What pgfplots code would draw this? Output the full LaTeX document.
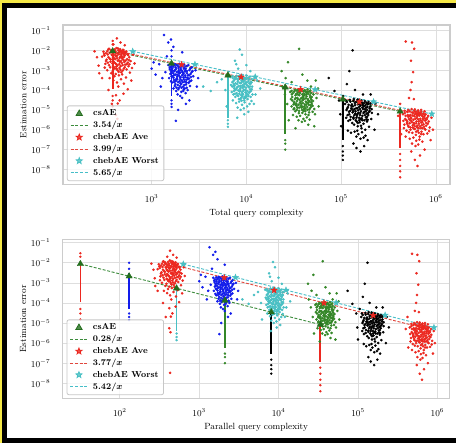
\documentclass[border=0pt]{standalone}
\usepackage{amsmath}
\usepackage{pgfplots}
\pgfplotsset{compat=1.18}
\usepackage{pgfplotstable}
\definecolor{cR}{RGB}{236,40,32}
\definecolor{cB}{RGB}{18,28,235}
\definecolor{cC}{RGB}{72,192,196}
\definecolor{cG}{RGB}{52,135,40}
\definecolor{cTri}{RGB}{36,110,30}
\definecolor{dG}{RGB}{60,140,60}
\definecolor{dR}{RGB}{225,70,60}
\definecolor{dC}{RGB}{70,190,200}
\definecolor{bgY}{RGB}{245,232,70}
\pgfdeclareplotmark{fstar}{%
 \pgfpathmoveto{\pgfqpointpolar{90}{\pgfplotmarksize}}%
 \pgfpathlineto{\pgfqpointpolar{126}{0.42\pgfplotmarksize}}%
 \pgfpathlineto{\pgfqpointpolar{162}{\pgfplotmarksize}}%
 \pgfpathlineto{\pgfqpointpolar{198}{0.42\pgfplotmarksize}}%
 \pgfpathlineto{\pgfqpointpolar{234}{\pgfplotmarksize}}%
 \pgfpathlineto{\pgfqpointpolar{270}{0.42\pgfplotmarksize}}%
 \pgfpathlineto{\pgfqpointpolar{306}{\pgfplotmarksize}}%
 \pgfpathlineto{\pgfqpointpolar{342}{0.42\pgfplotmarksize}}%
 \pgfpathlineto{\pgfqpointpolar{18}{\pgfplotmarksize}}%
 \pgfpathlineto{\pgfqpointpolar{54}{0.42\pgfplotmarksize}}%
 \pgfpathclose\pgfusepathqfillstroke}

% chebAE clouds (shared by both panels)
\pgfplotstableread{
x y
310 8.5e-3
345 6.2e-3
372 1.05e-2
398 4.1e-3
420 7.3e-3
455 9.6e-3
480 5.2e-3
505 3.3e-3
530 8.0e-3
560 2.4e-3
330 2.9e-3
355 1.8e-3
385 2.2e-3
410 1.2e-3
440 3.0e-3
470 1.6e-3
495 9.5e-4
520 1.4e-3
580 4.5e-3
300 4.8e-3
362 3.8e-3
392 6.8e-3
432 5.5e-3
462 2.6e-3
515 6.0e-3
545 1.1e-3
590 7.6e-4
340 1.0e-3
375 7.0e-4
405 5.0e-4
448 8.2e-4
488 6.1e-4
535 4.3e-4
320 1.35e-3
425 2.0e-3
460 4.2e-3
500 7.0e-3
550 3.6e-3
380 8.8e-3
350 1.12e-2
415 9.0e-3
470 1.0e-2
440 1.25e-2
395 3.1e-4
430 2.4e-4
475 3.5e-4
360 4.0e-4
510 2.1e-4
445 1.5e-4
390 1.6e-3
485 2.3e-3
525 1.9e-3
565 5.7e-3
600 2.9e-3
315 6.6e-3
335 3.4e-3
412 3.6e-3
452 6.4e-3
492 4.4e-3
540 8.8e-3
368 2.7e-3
402 2.5e-3
422 1.5e-3
437 1.0e-3
458 1.3e-3
478 7.9e-4
508 1.2e-3
570 1.6e-3
325 2.1e-3
385 5.6e-3
250 9.0e-3
265 4.5e-3
275 1.7e-3
640 6.0e-3
660 2.2e-3
620 1.3e-3
430 4.0e-2
470 2.5e-2
395 2.0e-2
520 1.8e-2
300 4.0e-4
610 3.0e-4
350 1.0e-4
420 5.5e-5
460 3.0e-5
505 6.5e-5
380 2.0e-5
440 2.1e-5
560 1.1e-4
280 7.0e-4
420 5.5e-6
435 3.5e-6
430 3.3e-8
340 9e-3
360 7.5e-3
380 6e-3
400 8e-3
420 5e-3
440 7e-3
460 8.5e-3
480 6.5e-3
500 9e-3
520 5.5e-3
350 4.5e-3
370 3.5e-3
390 4.5e-3
410 5.8e-3
430 4e-3
450 3.2e-3
470 4.8e-3
490 3.8e-3
510 4.6e-3
530 3e-3
345 2.4e-3
365 1.4e-3
395 2.8e-3
415 2.2e-3
435 1.7e-3
455 2e-3
475 2.9e-3
495 1.8e-3
515 2.6e-3
545 2e-3
355 1.2e-2
375 9.5e-3
405 1.1e-2
425 1.3e-2
445 1e-2
465 1.15e-2
485 8e-3
505 1.05e-2
525 7e-3
555 6.5e-3
330 7.2e-3
318 5.5e-3
575 3.2e-3
585 2e-3
400 1.4e-3
428 1.2e-3
468 1.05e-3
388 9e-4
418 6.5e-4
452 5.5e-4
}\cloudRa
\pgfplotstableread{
x y
1500 1.8e-3
1560 1.1e-3
1620 7.5e-4
1680 1.5e-3
1740 9.0e-4
1800 1.9e-3
1860 6.0e-4
1920 1.3e-3
1990 4.5e-4
2050 1.7e-3
2120 8.0e-4
2190 1.2e-3
2260 5.5e-4
2340 1.6e-3
2420 3.5e-4
2500 1.0e-3
2580 6.5e-4
2660 1.4e-3
1530 4.0e-4
1600 2.8e-4
1650 5.0e-4
1720 3.2e-4
1780 2.0e-4
1840 3.8e-4
1900 2.5e-4
1960 7.0e-4
2020 2.2e-4
2080 3.0e-4
2150 1.5e-4
2230 2.7e-4
2300 1.9e-4
2380 4.2e-4
2460 2.3e-4
2540 1.6e-4
2620 3.0e-4
1700 1.2e-4
1820 9.0e-5
1940 1.3e-4
2060 8.0e-5
2180 1.1e-4
2280 7.0e-5
2400 1.0e-4
1880 6.0e-5
2000 5.0e-5
2100 4.0e-5
1760 2.0e-3
1960 2.1e-3
2200 1.9e-3
2440 1.8e-3
1640 1.9e-3
2700 9.0e-4
2750 5.0e-4
1550 1.3e-3
1670 9.5e-4
1810 1.15e-3
1930 8.5e-4
2030 1.05e-3
2140 6.0e-4
2250 8.5e-4
2360 7.0e-4
2480 5.5e-4
2600 4.5e-4
1580 6.5e-4
1720 5.5e-4
1860 4.8e-4
2010 3.6e-4
2170 4.3e-4
2320 3.3e-4
2520 2.7e-4
1790 2.8e-4
1000 1.2e-3
1100 6.0e-4
1200 2.0e-3
1300 4.0e-4
1250 1.5e-4
1400 8.0e-4
1050 2.5e-3
2900 1.0e-3
3100 4.0e-4
3000 1.5e-4
1350 6.0e-2
1600 3.5e-2
1500 2.5e-2
1700 1.5e-2
2100 8.0e-3
1450 5.0e-3
2300 2.0e-5
1900 1.0e-5
2500 3.0e-5
1800 2.8e-6
1580 1.5e-3
1650 1.2e-3
1720 1.7e-3
1790 1.4e-3
1870 1.7e-3
1950 1.5e-3
2030 1.3e-3
2110 1.6e-3
2200 1.4e-3
2290 1.2e-3
1600 9e-4
1690 7e-4
1770 1.05e-3
1850 8e-4
1930 1e-3
2010 7.5e-4
2090 9.5e-4
2170 7e-4
2260 1e-3
2350 9e-4
1620 5e-4
1700 4.2e-4
1780 6e-4
1860 3.5e-4
1940 5.5e-4
2020 4.5e-4
2100 5.5e-4
2180 3.5e-4
2270 4.5e-4
2420 5.5e-4
1640 2.4e-4
1730 2.5e-4
1810 3.2e-4
1890 1.8e-4
1970 2.8e-4
2050 2e-4
2130 2.5e-4
2210 1.8e-4
2330 2.4e-4
2480 3.8e-4
1750 1.6e-4
1830 1.3e-4
1910 1.1e-4
1990 1.6e-4
2070 1.3e-4
2160 9e-5
2240 1.2e-4
2350 1.3e-4
2560 1.2e-3
2640 8e-4
}\cloudBb
\pgfplotstableread{
x y
6800 4.5e-4
7100 2.5e-4
7400 1.5e-4
7700 3.8e-4
8000 2.0e-4
8300 4.8e-4
8600 1.2e-4
8900 3.0e-4
9300 9.0e-5
9700 4.0e-4
10100 1.8e-4
10500 2.8e-4
10900 1.1e-4
11400 3.6e-4
7000 8.0e-5
7300 6.0e-5
7600 1.0e-4
7900 7.0e-5
8200 5.0e-5
8500 8.5e-5
8800 4.0e-5
9100 6.5e-5
9500 3.0e-5
9900 5.5e-5
10300 3.5e-5
10700 7.5e-5
11100 4.5e-5
11600 6.0e-5
7200 3.0e-5
7800 2.2e-5
8400 2.6e-5
9000 1.8e-5
9600 2.4e-5
10200 1.5e-5
10800 2.0e-5
8100 1.3e-5
8700 1.0e-5
9400 1.2e-5
7500 3.3e-4
8150 3.2e-4
8750 2.2e-4
9250 4.5e-4
9850 2.4e-4
10400 4.2e-4
11000 2.0e-4
11500 1.5e-4
6900 1.8e-4
7450 1.2e-4
8050 1.4e-4
8650 1.6e-4
9150 1.3e-4
9800 1.0e-4
10600 1.4e-4
11200 9.0e-5
7150 5.0e-4
7900 5.2e-4
8550 5.5e-4
9200 5.0e-4
10000 5.3e-4
10800 4.6e-4
7650 4.5e-5
8350 3.5e-5
9050 4.8e-5
9750 4.0e-5
10500 5.0e-5
11300 2.8e-5
8900 2.9e-5
7350 2.0e-4
9450 2.0e-4
10050 7.0e-5
3500 1.5e-4
4200 9.0e-5
4900 2.5e-4
5500 3.5e-4
6000 1.0e-4
13000 3.0e-4
14000 1.2e-4
12500 6.0e-5
8500 1.1e-2
9000 6.0e-3
7600 3.0e-3
10000 1.8e-3
8200 1.2e-3
11000 9.0e-4
9500 6.0e-6
8000 4.0e-6
10500 8.0e-6
12000 2.0e-5
6200 1.5e-5
7800 2.0e-3
7200 4e-4
7600 4.2e-4
8000 3.6e-4
8400 4e-4
8800 3.8e-4
9200 3.5e-4
9600 3.2e-4
10000 3.8e-4
10600 3.4e-4
11200 2.6e-4
7300 2.8e-4
7700 2.2e-4
8100 2.6e-4
8500 2.3e-4
8900 2.5e-4
9300 2.7e-4
9700 2.1e-4
10100 2.4e-4
10700 2.2e-4
11300 2.4e-4
7100 1.5e-4
7500 1.7e-4
7900 1.3e-4
8300 1.6e-4
8700 1.4e-4
9100 1.7e-4
9500 1.5e-4
9900 1.3e-4
10400 1.6e-4
10900 1.5e-4
7400 9e-5
7800 1.1e-4
8200 9.5e-5
8600 1e-4
9000 8e-5
9400 1.05e-4
9800 7.5e-5
10200 9e-5
10800 8e-5
11400 1.1e-4
7600 6.5e-5
8000 5.5e-5
8400 6.5e-5
8800 5.5e-5
9200 6e-5
9600 4.5e-5
10000 4.5e-5
10400 6e-5
8600 3.5e-5
9400 3.8e-5
}\cloudCc
\pgfplotstableread{
x y
29000 8.0e-5
30500 4.5e-5
32000 2.5e-5
33500 6.5e-5
35000 3.5e-5
36500 9.0e-5
38000 2.0e-5
39500 5.0e-5
41000 1.5e-5
43000 7.5e-5
45000 3.0e-5
47000 5.5e-5
49000 2.0e-5
51000 6.0e-5
30000 1.5e-5
31500 1.1e-5
33000 1.8e-5
34500 1.3e-5
36000 9.0e-6
37500 1.6e-5
39000 7.0e-6
40500 1.2e-5
42000 6.0e-6
44000 1.0e-5
46000 7.5e-6
48000 1.4e-5
50000 8.0e-6
52000 1.1e-5
31000 5.5e-6
34000 4.5e-6
37000 5.0e-6
40000 3.5e-6
43500 4.2e-6
46500 3.2e-6
35500 3.0e-6
38500 2.5e-6
41500 2.8e-6
32500 1.0e-4
35200 1.05e-4
38200 1.1e-4
41200 1.0e-4
44200 1.1e-4
47200 9.5e-5
29500 3.5e-5
31800 2.2e-5
34200 2.8e-5
36800 2.3e-5
39200 3.0e-5
42500 2.6e-5
45500 1.8e-5
48500 3.3e-5
30200 6.0e-5
33200 4.0e-5
36200 5.5e-5
39800 4.2e-5
43200 4.8e-5
47800 4.0e-5
50500 2.8e-5
32800 8.5e-6
35800 6.8e-6
38800 1.0e-5
41800 8.5e-6
45200 5.5e-6
37800 3.8e-5
40800 6.5e-5
34800 7.5e-5
44800 2.2e-5
42800 1.8e-5
33800 1.6e-5
46800 1.2e-5
36000 1.2e-2
27500 2.5e-3
23500 9.0e-4
26000 4.0e-4
24000 1.5e-4
25500 6.0e-5
27000 2.0e-5
54000 3.0e-4
57000 1.2e-4
55000 4.0e-5
58000 1.5e-5
52000 1.5e-6
33000 1.2e-6
45000 1.8e-6
39000 6.0e-4
44000 3.0e-4
30000 2.5e-4
48000 1.5e-4
28000 3.0e-6
53000 6.0e-6
30000 9e-5
32000 8.5e-5
34000 9.5e-5
36000 8e-5
38000 9e-5
40000 8.5e-5
42000 9e-5
44000 8e-5
46000 8.5e-5
48000 7e-5
31000 7e-5
33000 5.5e-5
35000 6e-5
37000 7e-5
39000 6e-5
41000 5.5e-5
43000 6e-5
45000 6.5e-5
47000 4.5e-5
49000 4.5e-5
30500 3e-5
32500 3.5e-5
34500 4e-5
36500 3.2e-5
38500 4e-5
40500 3.5e-5
42500 3.8e-5
44500 3.5e-5
46500 2.8e-5
48500 2.4e-5
31500 1.9e-5
33500 2.1e-5
35500 1.8e-5
37500 2.6e-5
39500 2.2e-5
41500 1.9e-5
43500 2.3e-5
45500 2.5e-5
47500 1.7e-5
50000 1.6e-5
32000 1.2e-5
34000 1e-5
36000 1.3e-5
38000 1.3e-5
40000 9e-6
42000 1.2e-5
44000 1.4e-5
46000 1.05e-5
39000 1.45e-5
41000 1.1e-5
}\cloudGd
\pgfplotstableread{
x y
110000 2.0e-5
116000 1.2e-5
122000 6.0e-6
128000 1.6e-5
134000 9.0e-6
140000 2.2e-5
147000 5.0e-6
154000 1.4e-5
161000 3.5e-6
168000 1.9e-5
176000 8.0e-6
184000 1.3e-5
193000 5.5e-6
203000 1.5e-5
113000 4.0e-6
119000 2.8e-6
125000 3.2e-6
131000 2.2e-6
137000 1.8e-6
143000 3.0e-6
150000 1.5e-6
157000 2.4e-6
164000 1.2e-6
172000 2.0e-6
180000 1.0e-6
188000 2.6e-6
197000 1.4e-6
208000 3.5e-6
118000 9.0e-7
127000 7.0e-7
139000 8.0e-7
152000 6.0e-7
166000 7.5e-7
181000 5.0e-7
145000 4.5e-7
160000 3.5e-7
173000 4.0e-7
112000 3.0e-5
124000 3.2e-5
136000 3.5e-5
149000 3.3e-5
163000 3.0e-5
178000 2.8e-5
195000 2.5e-5
114000 1.0e-5
121000 8.0e-6
130000 1.1e-5
141000 6.5e-6
151000 9.5e-6
159000 7.0e-6
170000 1.1e-5
186000 6.5e-6
200000 9.0e-6
211000 7.0e-6
117000 5.5e-6
126000 4.5e-6
135000 4.2e-6
146000 2.6e-6
155000 4.0e-6
167000 3.0e-6
183000 4.2e-6
191000 3.2e-6
133000 1.5e-5
144000 1.2e-5
158000 2.0e-5
174000 1.5e-5
190000 1.9e-5
148000 9.0e-7
162000 1.6e-6
205000 6.0e-5
132000 1.0e-2
122000 9.0e-4
74000 4.0e-4
85000 9.0e-5
95000 3.0e-5
98000 6.0e-6
100000 1.5e-6
230000 2.0e-5
245000 6.0e-6
225000 1.0e-6
160000 8.0e-8
145000 1.2e-7
175000 1.5e-7
135000 2.0e-7
190000 3.0e-7
115000 2.0e-4
140000 1.0e-4
170000 6.0e-5
105000 5.0e-5
115000 2.5e-5
125000 2.6e-5
135000 2.8e-5
145000 2.6e-5
155000 2.7e-5
165000 2.4e-5
175000 2.2e-5
185000 2.3e-5
195000 2e-5
205000 2.1e-5
120000 1.8e-5
130000 1.9e-5
140000 1.7e-5
150000 1.9e-5
160000 1.6e-5
170000 1.7e-5
180000 1.7e-5
190000 1.4e-5
200000 1.2e-5
210000 1.1e-5
118000 1.4e-5
128000 1.2e-5
138000 1.1e-5
148000 1.2e-5
158000 1.1e-5
168000 1.3e-5
178000 1.1e-5
188000 1e-5
198000 8e-6
125000 9e-6
132000 7.5e-6
142000 8.5e-6
152000 7e-6
162000 8.5e-6
172000 7e-6
182000 8.5e-6
192000 7e-6
138000 5.5e-6
148000 6e-6
158000 5.5e-6
168000 5e-6
178000 5.5e-6
188000 4.5e-6
135000 3.6e-6
145000 4e-6
155000 3e-6
165000 3.8e-6
175000 3e-6
185000 3.3e-6
150000 2.2e-6
}\cloudKe
\pgfplotstableread{
x y
450000 6.0e-6
475000 3.5e-6
500000 2.0e-6
525000 5.0e-6
550000 2.8e-6
575000 7.0e-6
600000 1.5e-6
630000 4.0e-6
660000 1.2e-6
690000 6.5e-6
720000 2.4e-6
755000 4.5e-6
790000 1.6e-6
830000 5.0e-6
460000 1.2e-6
490000 9.0e-7
515000 1.4e-6
540000 1.0e-6
565000 7.0e-7
590000 1.1e-6
615000 5.5e-7
645000 9.0e-7
675000 4.5e-7
705000 8.0e-7
740000 6.0e-7
775000 1.0e-6
810000 6.5e-7
850000 8.5e-7
480000 4.5e-7
530000 3.5e-7
580000 4.0e-7
620000 2.8e-7
670000 3.2e-7
720000 2.5e-7
560000 2.0e-7
610000 1.5e-7
650000 1.8e-7
470000 9.0e-6
510000 1.0e-5
555000 1.1e-5
600000 1.05e-5
650000 9.5e-6
700000 1.0e-5
760000 8.5e-6
455000 2.8e-6
495000 2.2e-6
535000 3.0e-6
585000 2.2e-6
625000 2.6e-6
665000 2.0e-6
710000 1.7e-6
770000 2.9e-6
820000 2.0e-6
860000 1.3e-6
505000 5.5e-6
545000 4.2e-6
595000 4.8e-6
640000 6.0e-6
685000 3.6e-6
730000 3.8e-6
800000 3.3e-6
465000 1.8e-6
520000 7.5e-7
570000 1.3e-6
635000 1.3e-6
695000 1.2e-6
750000 1.4e-6
605000 8.0e-6
715000 5.5e-6
660000 7.0e-7
480000 2.8e-2
560000 2.5e-2
590000 1.2e-2
545000 3.0e-3
575000 8.0e-4
555000 2.5e-4
540000 1.0e-4
520000 4.0e-5
420000 2.0e-5
400000 5.0e-6
430000 6.0e-7
900000 4.0e-6
930000 1.0e-6
880000 3.0e-7
600000 3.0e-8
640000 1.5e-8
680000 5.0e-8
550000 8.0e-8
760000 1.0e-7
585000 3.5e-5
470000 7e-6
500000 8e-6
530000 8.5e-6
560000 7.5e-6
590000 9e-6
620000 8e-6
660000 7.5e-6
700000 8e-6
740000 6.5e-6
780000 6e-6
480000 5e-6
510000 4.5e-6
540000 5.5e-6
570000 5.2e-6
600000 6e-6
640000 5e-6
680000 5.5e-6
720000 4.8e-6
760000 5.5e-6
810000 4e-6
490000 3e-6
520000 3.5e-6
550000 3.8e-6
580000 3.2e-6
610000 3.6e-6
650000 3.3e-6
690000 3e-6
730000 3.2e-6
770000 3.6e-6
840000 2.6e-6
500000 2.5e-6
530000 2.1e-6
560000 2.4e-6
590000 1.9e-6
620000 2.1e-6
660000 2.6e-6
700000 2.3e-6
740000 1.9e-6
790000 2.2e-6
640000 1.6e-6
510000 1.6e-6
540000 1.3e-6
570000 1.7e-6
600000 1.1e-6
630000 1.4e-6
680000 1.5e-6
720000 1.2e-6
760000 1.1e-6
620000 8e-7
700000 6e-7
}\cloudRf

\begin{document}
\begin{tikzpicture}
\useasboundingbox (0,0) rectangle (456pt,443pt);
\fill[bgY] (0,0) rectangle (456pt,443pt);
\fill[black] (2pt,0) rectangle (456pt,440pt);
\fill[white] (7pt,5pt) rectangle (456pt,435pt);

% ---------------- top panel ----------------
\begin{loglogaxis}[
  at={(63pt,258.7pt)}, anchor=south west,
  scale only axis, width=387pt, height=159.3pt,
  xmin=116, xmax=1.41e6, ymin=1.78e-9, ymax=0.19,
  axis line style={black!20, line width=1.1pt},
  grid=major, major grid style={black!13, line width=0.6pt},
  major tick length=0pt, minor tick length=0pt,
  xtick={1e2,1e3,1e4,1e5,1e6},
  ytick={1e-8,1e-7,1e-6,1e-5,1e-4,1e-3,1e-2,1e-1},
  tick label style={font=\fontsize{9}{10}\selectfont},
  xticklabel style={yshift=-7pt},
  yticklabel style={xshift=-9pt},
  label style={font=\fontsize{9}{11}\selectfont},
  xlabel={Total query complexity},
  ylabel={Estimation error},
  ylabel style={yshift=-2pt},
  legend style={at={(0.01,0.02)}, anchor=south west,
    draw=black!22, line width=0.8pt, rounded corners=2pt, fill=white, fill opacity=0.8,
    text opacity=1, row sep=0pt,
    font=\fontsize{8.7}{9}\selectfont\bfseries,
    /tikz/every odd column/.append style={column sep=3pt}},
  legend cell align=left,
]
\addplot[only marks, mark=*, mark size=1.1pt, cR, forget plot] table {\cloudRa};
\addplot[only marks, mark=*, mark size=1.1pt, cB, forget plot] table {\cloudBb};
\addplot[only marks, mark=*, mark size=1.1pt, cC, forget plot] table {\cloudCc};
\addplot[only marks, mark=*, mark size=1.1pt, cG, forget plot] table {\cloudGd};
\addplot[only marks, mark=*, mark size=1.1pt, black, forget plot] table {\cloudKe};
\addplot[only marks, mark=*, mark size=1.1pt, cR, forget plot] table {\cloudRf};
% csAE columns
\addplot[cR, line width=1.7pt, forget plot] coordinates {(388,1.2e-2) (388,1.1e-4)};
\addplot[only marks, mark=*, mark size=1.0pt, cR, forget plot] coordinates {(388,3e-2) (388,2e-2) (388,5e-5) (388,3e-5) (388,1.5e-5)};
\addplot[cB, line width=1.7pt, forget plot] coordinates {(1622,3e-3) (1622,5e-5)};
\addplot[only marks, mark=*, mark size=1.0pt, cB, forget plot] coordinates {(1622,1e-2) (1622,5e-3) (1622,3e-5) (1622,2e-5) (1622,1.4e-5)};
\addplot[cC, line width=1.7pt, forget plot] coordinates {(6383,6e-4) (6383,4e-6)};
\addplot[only marks, mark=*, mark size=1.0pt, cC, forget plot] coordinates {(6383,3e-6) (6383,2e-6) (6383,1.4e-6)};
\addplot[cG, line width=1.7pt, forget plot] coordinates {(25700,1.6e-4) (25700,6e-7)};
\addplot[only marks, mark=*, mark size=1.0pt, cG, forget plot] coordinates {(25700,3e-7) (25700,2e-7) (25700,1e-7)};
\addplot[black, line width=1.7pt, forget plot] coordinates {(104200,4e-5) (104200,3e-7)};
\addplot[only marks, mark=*, mark size=1.0pt, black, forget plot] coordinates {(104200,1.5e-7) (104200,8e-8) (104200,5e-8) (104200,3e-8)};
\addplot[cR, line width=1.7pt, forget plot] coordinates {(419800,1e-5) (419800,1.2e-7)};
\addplot[only marks, mark=*, mark size=1.0pt, cR, forget plot] coordinates {(419800,6e-8) (419800,3e-8) (419800,1.5e-8) (419800,8e-9) (419800,4e-9)};
% means and fits
\addplot[only marks, mark=triangle*, mark size=3.6pt, cTri] coordinates {(388,9.12e-3) (1622,2.18e-3) (6383,5.55e-4) (25700,1.38e-4) (104200,3.40e-5) (419800,8.43e-6)};
\addlegendentry{csAE}
\addplot[dG, dash pattern=on 3pt off 1.6pt, line width=0.9pt] coordinates {(388,9.12e-3) (419800,8.43e-6)};
\addlegendentry{3.54/$\boldsymbol{x}$}
\addplot[only marks, mark=fstar, mark size=3.2pt, cR] coordinates {(490,8.14e-3) (2070,1.93e-3) (8810,4.53e-4) (37300,1.07e-4) (156000,2.56e-5) (646000,6.18e-6)};
\addlegendentry{chebAE Ave}
\addplot[dR, dash pattern=on 3pt off 1.6pt, line width=0.9pt] coordinates {(490,8.14e-3) (646000,6.18e-6)};
\addlegendentry{3.99/$\boldsymbol{x}$}
\addplot[only marks, mark=fstar, mark size=3.2pt, cC] coordinates {(631,8.95e-3) (2864,1.97e-3) (12390,4.56e-4) (53200,1.06e-4) (219800,2.57e-5) (905700,6.24e-6)};
\addlegendentry{chebAE Worst}
\addplot[dC, dash pattern=on 3pt off 1.6pt, line width=0.9pt] coordinates {(631,8.95e-3) (905700,6.24e-6)};
\addlegendentry{5.65/$\boldsymbol{x}$}
\end{loglogaxis}

% ---------------- bottom panel ----------------
\begin{loglogaxis}[
  at={(62.7pt,44.7pt)}, anchor=south west,
  scale only axis, width=387pt, height=159pt,
  xmin=19.1, xmax=1.43e6, ymin=1.78e-9, ymax=0.148,
  axis line style={black!20, line width=1.1pt},
  grid=major, major grid style={black!13, line width=0.6pt},
  major tick length=0pt, minor tick length=0pt,
  xtick={1e2,1e3,1e4,1e5,1e6},
  ytick={1e-8,1e-7,1e-6,1e-5,1e-4,1e-3,1e-2,1e-1},
  tick label style={font=\fontsize{9}{10}\selectfont},
  xticklabel style={yshift=-7pt},
  yticklabel style={xshift=-9pt},
  label style={font=\fontsize{9}{11}\selectfont},
  xlabel={Parallel query complexity},
  ylabel={Estimation error},
  ylabel style={yshift=-2pt},
  legend style={at={(0.01,0.02)}, anchor=south west,
    draw=black!22, line width=0.8pt, rounded corners=2pt, fill=white, fill opacity=0.8,
    text opacity=1, row sep=0pt,
    font=\fontsize{8.7}{9}\selectfont\bfseries,
    /tikz/every odd column/.append style={column sep=3pt}},
  legend cell align=left,
]
\addplot[only marks, mark=*, mark size=1.1pt, cR, forget plot] table {\cloudRa};
\addplot[only marks, mark=*, mark size=1.1pt, cB, forget plot] table {\cloudBb};
\addplot[only marks, mark=*, mark size=1.1pt, cC, forget plot] table {\cloudCc};
\addplot[only marks, mark=*, mark size=1.1pt, cG, forget plot] table {\cloudGd};
\addplot[only marks, mark=*, mark size=1.1pt, black, forget plot] table {\cloudKe};
\addplot[only marks, mark=*, mark size=1.1pt, cR, forget plot] table {\cloudRf};
% csAE columns
\addplot[cR, line width=1.7pt, forget plot] coordinates {(31.9,1.2e-2) (31.9,1.1e-4)};
\addplot[only marks, mark=*, mark size=1.0pt, cR, forget plot] coordinates {(31.9,3e-2) (31.9,2e-2) (31.9,5e-5) (31.9,3e-5) (31.9,1.5e-5)};
\addplot[cB, line width=1.7pt, forget plot] coordinates {(131,3e-3) (131,5e-5)};
\addplot[only marks, mark=*, mark size=1.0pt, cB, forget plot] coordinates {(131,1e-2) (131,5e-3) (131,3e-5) (131,2e-5) (131,1.4e-5)};
\addplot[cC, line width=1.7pt, forget plot] coordinates {(519,6e-4) (519,4e-6)};
\addplot[only marks, mark=*, mark size=1.0pt, cC, forget plot] coordinates {(519,3e-6) (519,2e-6) (519,1.4e-6)};
\addplot[cG, line width=1.7pt, forget plot] coordinates {(2109,1.6e-4) (2109,6e-7)};
\addplot[only marks, mark=*, mark size=1.0pt, cG, forget plot] coordinates {(2109,3e-7) (2109,2e-7) (2109,1e-7)};
\addplot[black, line width=1.7pt, forget plot] coordinates {(8091,4e-5) (8091,3e-7)};
\addplot[only marks, mark=*, mark size=1.0pt, black, forget plot] coordinates {(8091,1.5e-7) (8091,8e-8) (8091,5e-8) (8091,3e-8)};
\addplot[cR, line width=1.7pt, forget plot] coordinates {(33570,1e-5) (33570,1.2e-7)};
\addplot[only marks, mark=*, mark size=1.0pt, cR, forget plot] coordinates {(33570,6e-8) (33570,3e-8) (33570,1.5e-8) (33570,8e-9) (33570,4e-9)};
% means and fits
\addplot[only marks, mark=triangle*, mark size=3.6pt, cTri] coordinates {(31.9,8.78e-3) (131,2.14e-3) (519,5.39e-4) (2109,1.33e-4) (8091,3.46e-5) (33570,8.34e-6)};
\addlegendentry{csAE}
\addplot[dG, dash pattern=on 3pt off 1.6pt, line width=0.9pt] coordinates {(31.9,8.78e-3) (33570,8.34e-6)};
\addlegendentry{0.28/$\boldsymbol{x}$}
\addplot[only marks, mark=fstar, mark size=3.2pt, cR] coordinates {(490,7.69e-3) (2070,1.82e-3) (8810,4.28e-4) (37300,1.01e-4) (156000,2.42e-5) (646000,5.84e-6)};
\addlegendentry{chebAE Ave}
\addplot[dR, dash pattern=on 3pt off 1.6pt, line width=0.9pt] coordinates {(490,7.69e-3) (646000,5.84e-6)};
\addlegendentry{3.77/$\boldsymbol{x}$}
\addplot[only marks, mark=fstar, mark size=3.2pt, cC] coordinates {(631,8.59e-3) (2864,1.89e-3) (12390,4.37e-4) (53200,1.02e-4) (219800,2.47e-5) (905700,5.98e-6)};
\addlegendentry{chebAE Worst}
\addplot[dC, dash pattern=on 3pt off 1.6pt, line width=0.9pt] coordinates {(631,8.59e-3) (905700,5.98e-6)};
\addlegendentry{5.42/$\boldsymbol{x}$}
\end{loglogaxis}
\end{tikzpicture}
\end{document}
